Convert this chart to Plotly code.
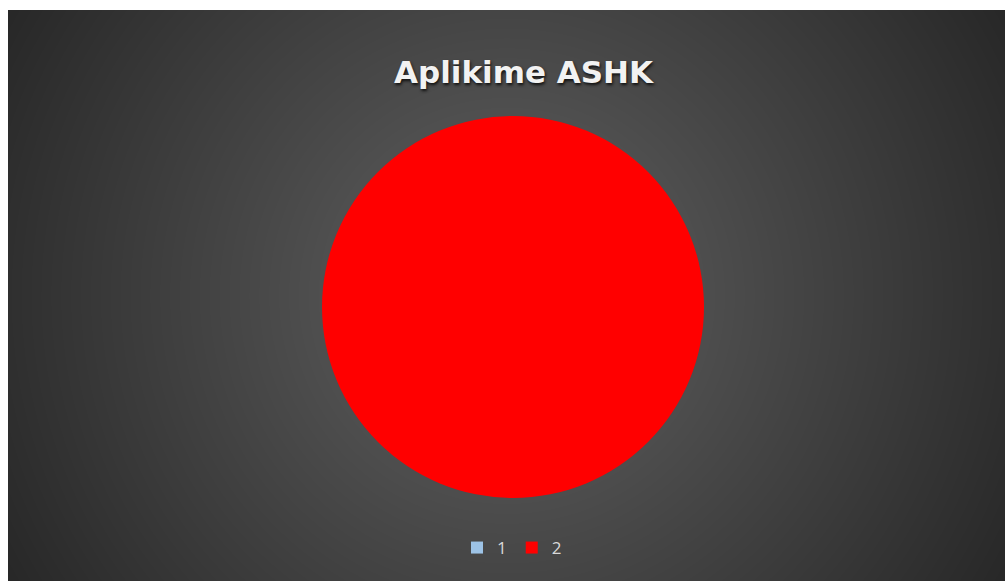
import base64, struct, zlib
import numpy as np
import plotly.graph_objects as go

labels = ["1", "2"]
values = [0, 100]
colors = ["#9dc3e6", "#ff0000"]
title_text = "Aplikime ASHK"

W, H = 1005, 581
LEFT_WHITE, TOP_WHITE = 8, 10  # white border of the picture


def gradient_png(w, h, left, top):
    yy, xx = np.mgrid[0:h, 0:w].astype(float)
    cx, cy = (w + left) * 0.5, (h + top) * 0.5
    r = np.sqrt((xx - cx) ** 2 + (yy - cy) ** 2) / np.sqrt((cx - left) ** 2 + (cy - top) ** 2)
    r = np.clip(r, 0, 1)
    g = 0x62 - (0x62 - 0x28) * r
    g = np.clip(g, 0, 255).astype(np.uint8)
    g[:top, :] = 255
    g[:, :left] = 255
    raw = b"".join(b"\x00" + g[i].tobytes() for i in range(h))

    def chunk(t, d):
        c = struct.pack(">I", len(d)) + t + d
        return c + struct.pack(">I", zlib.crc32(t + d) & 0xffffffff)

    png = (b"\x89PNG\r\n\x1a\n"
           + chunk(b"IHDR", struct.pack(">IIBBBBB", w, h, 8, 0, 0, 0, 0))
           + chunk(b"IDAT", zlib.compress(raw, 9)) + chunk(b"IEND", b""))
    return "data:image/png;base64," + base64.b64encode(png).decode()


cx_px, cy_px, rad = 513, 307, 191

fig = go.Figure(go.Pie(
    labels=labels, values=values,
    marker=dict(colors=colors, line=dict(width=0)),
    textinfo="none", sort=False, direction="clockwise",
    showlegend=True, hoverinfo="label+value+percent",
    domain=dict(x=[(cx_px - rad) / W, (cx_px + rad) / W],
                y=[1 - (cy_px + rad) / H, 1 - (cy_px - rad) / H]),
))

fig.update_layout(
    width=W, height=H,
    margin=dict(l=0, r=0, t=0, b=0),
    paper_bgcolor="#ffffff",
    images=[dict(source=gradient_png(W, H, LEFT_WHITE, TOP_WHITE), xref="paper", yref="paper",
                 x=0, y=1, sizex=1, sizey=1,
                 xanchor="left", yanchor="top", sizing="stretch", layer="below")],
    annotations=[dict(text="<b>" + title_text + "</b>", x=524 / W, y=1 - 72 / H,
                      xref="paper", yref="paper", showarrow=False,
                      xanchor="center", yanchor="middle",
                      font=dict(family="DejaVu Sans", size=31, color="#f2f2f2",
                                shadow="1px 2px 3px #111111"))],
    legend=dict(orientation="h", x=512 / W, xanchor="center", y=1 - 548 / H, yanchor="middle",
                font=dict(family="Open Sans", size=17, color="#d9d9d9"),
                bgcolor="rgba(0,0,0,0)", itemwidth=30, traceorder="normal"),
)

fig.write_html("out.html", config={"displayModeBar": False},
               post_script="document.body.style.margin='0';document.body.style.overflow='hidden';")
